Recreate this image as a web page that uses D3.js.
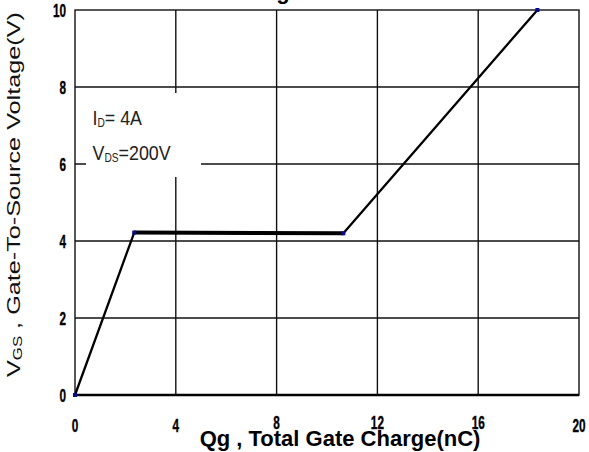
<!DOCTYPE html>
<html>
<head>
<meta charset="utf-8">
<script src="https://cdn.jsdelivr.net/npm/d3@7"></script>
<style>
  html, body { margin: 0; padding: 0; background: #fff; }
  svg { display: block; }
</style>
</head>
<body>
<svg id="chart" width="589" height="452"></svg>
<script>
// ---- data ----
const charge = [0, 2.35, 10.65, 18.35];        // Qg (nC)
const voltage = [0, 4.22, 4.2, 10];            // VGS (V)
const xTicks = [0, 4, 8, 12, 16, 20];
const yTicks = [0, 2, 4, 6, 8, 10];
const xTickLabels = ["0", "4", "8", "12", "16", "20"];
const yTickLabels = ["0", "2", "4", "6", "8", "10"];
const titleText = "Gate Charge";
const xTitle = "Qg , Total Gate Charge(nC)";
const condLine1 = ["I", "D", "= 4A"];
const condLine2 = ["V", "DS", "=200V"];

// ---- layout ----
const svg = d3.select("#chart");
const pL = 75, pR = 579, pT = 10, pB = 395;
const x = d3.scaleLinear().domain([0, 20]).range([pL, pR]);
const y = d3.scaleLinear().domain([0, 10]).range([pB, pT]);
const font = "'Liberation Sans', Arial, sans-serif";

// cut-off title at top
svg.append("text").attr("x", 302).attr("y", -1.5)
  .attr("text-anchor", "end").attr("font-family", font)
  .attr("font-weight", "bold").attr("font-size", 22).text(titleText);

// grid
const grid = svg.append("g");
grid.selectAll("line.v").data(xTicks.slice(1, -1)).join("line")
  .attr("x1", d => x(d)).attr("x2", d => x(d))
  .attr("y1", pT).attr("y2", pB)
  .attr("stroke", "#111").attr("stroke-width", 1.4);
grid.selectAll("line.h").data(yTicks.slice(1, -1)).join("line")
  .attr("x1", pL).attr("x2", pR)
  .attr("y1", d => y(d)).attr("y2", d => y(d))
  .attr("stroke", "#111").attr("stroke-width", 1.4);

// frame
svg.append("rect").attr("x", pL).attr("y", pT)
  .attr("width", pR - pL).attr("height", pB - pT)
  .attr("fill", "none").attr("stroke", "#111").attr("stroke-width", 1.4);
svg.append("line").attr("x1", pL).attr("x2", pR)
  .attr("y1", pB).attr("y2", pB)
  .attr("stroke", "#000").attr("stroke-width", 2.6);

// condition label box (white background interrupts grid)
svg.append("rect").attr("x", 86).attr("y", 93).attr("width", 115).attr("height", 84)
  .attr("fill", "#fff");
function condLabel(parts, bx, by) {
  const t = svg.append("text").attr("font-family", font).attr("font-size", 21)
    .attr("fill", "#222")
    .attr("transform", `translate(${bx},${by}) scale(0.85,1)`);
  t.append("tspan").text(parts[0]);
  t.append("tspan").attr("font-size", 12).attr("dy", 2).text(parts[1]);
  t.append("tspan").attr("dy", -2).text(parts[2]);
}
condLabel(condLine1, 92.5, 125);
condLabel(condLine2, 92.5, 160);

// curve
const pts = charge.map((c, i) => [c, voltage[i]]);
const line = d3.line().x(d => x(d[0])).y(d => y(d[1]));
svg.append("path").attr("d", line(pts)).attr("fill", "none")
  .attr("stroke", "#000").attr("stroke-width", 2.3).attr("stroke-linejoin", "round");
svg.append("path").attr("d", line(pts.slice(1, 3))).attr("fill", "none")
  .attr("stroke", "#000").attr("stroke-width", 4);
svg.selectAll("rect.m").data(pts).join("rect")
  .attr("x", d => x(d[0]) - 2).attr("y", d => y(d[1]) - 2)
  .attr("width", 4).attr("height", 4).attr("fill", "#0a0a8c");

// tick labels
svg.selectAll("text.xt").data(xTicks).join("text")
  .attr("transform", (d, i) => `translate(${x(d)},${(i >= 2 && i <= 4) ? 429 : 432}) scale(0.62,1)`)
  .attr("text-anchor", "middle").attr("font-family", font)
  .attr("font-weight", "bold").attr("font-size", 19)
  .attr("stroke", "#000").attr("stroke-width", 0.4)
  .text((d, i) => xTickLabels[i]);
svg.selectAll("text.yt").data(yTicks).join("text")
  .attr("transform", d => `translate(66,${y(d) + 6.5}) scale(0.62,1)`)
  .attr("text-anchor", "end").attr("font-family", font)
  .attr("font-weight", "bold").attr("font-size", 19)
  .attr("stroke", "#000").attr("stroke-width", 0.4)
  .text((d, i) => yTickLabels[i]);

// x title
svg.append("text").attr("font-family", font).attr("font-weight", "bold")
  .attr("font-size", 22).attr("text-anchor", "middle")
  .attr("x", 340).attr("y", 446).text(xTitle);

// y title (rotated)
const yg = svg.append("g").attr("transform", "translate(20,377) rotate(-90)");
const ytText = yg.append("text").attr("font-family", font).attr("font-size", 18)
  .attr("fill", "#111");
ytText.append("tspan").text("V");
ytText.append("tspan").attr("font-size", 12).attr("dy", 2).text("GS");
ytText.append("tspan").attr("dy", -2).text(" , Gate-To-Source Voltage(V)");
const len = ytText.node().getComputedTextLength();
ytText.attr("transform", `scale(${365 / len},1)`);
</script>
</body>
</html>
